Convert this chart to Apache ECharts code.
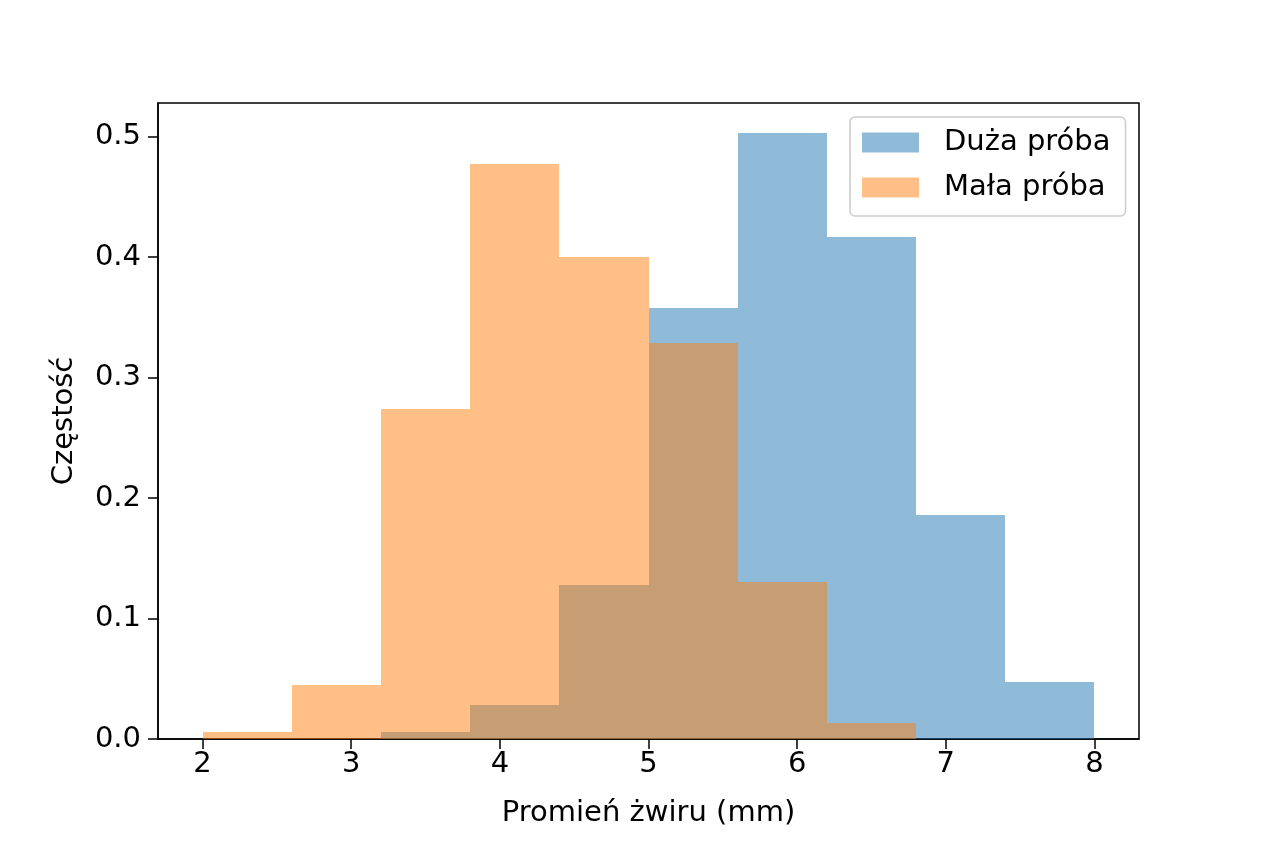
<!DOCTYPE html>
<html>
<head>
<meta charset="utf-8">
<script src="https://cdn.jsdelivr.net/npm/echarts@6/dist/echarts.min.js"></script>
<style>
  html, body { margin: 0; padding: 0; background: #fff; }
  #chart { width: 1264px; height: 843px; }
</style>
</head>
<body>
<div id="chart"></div>
<script>
// przedziały histogramu (wspólne dla obu prób)
const binEdges = [2.0, 2.6, 3.2, 3.8, 4.4, 5.0, 5.6, 6.2, 6.8, 7.4, 8.0];
// częstości
const duzaValues = [0, 0, 0.006, 0.028, 0.128, 0.358, 0.503, 0.417, 0.186, 0.047];
const malaValues = [0.006, 0.045, 0.274, 0.477, 0.400, 0.329, 0.130, 0.013, 0, 0];
const xTicks = [2, 3, 4, 5, 6, 7, 8];
const yTicks = [0, 0.1, 0.2, 0.3, 0.4, 0.5];

const FONT = 'DejaVu Sans';

function toBins(values) {
  return values.map((v, i) => [binEdges[i], binEdges[i + 1], v]);
}

// prostokąt słupka, zaokrąglony do pikseli żeby nie było szwów między słupkami
function renderBin(params, api) {
  const p0 = api.coord([api.value(0), 0]);
  const p1 = api.coord([api.value(1), api.value(2)]);
  const x0 = Math.round(p0[0]), x1 = Math.round(p1[0]);
  const y0 = Math.round(p0[1]), y1 = Math.round(p1[1]);
  return {
    type: 'rect',
    shape: { x: x0, y: y1, width: x1 - x0, height: y0 - y1 },
    style: { fill: api.visual('color') }
  };
}

const chart = echarts.init(document.getElementById('chart'));

chart.setOption({
  animation: false,
  backgroundColor: '#fff',
  grid: {
    left: 158, right: 125, top: 103, bottom: 104,
    show: true, borderColor: '#000', borderWidth: 1.5, backgroundColor: 'transparent'
  },
  legend: {
    left: 850, top: 117,
    orient: 'vertical',
    icon: 'rect',
    itemWidth: 57, itemHeight: 20, itemGap: 16,
    padding: [11, 15, 14, 12],
    backgroundColor: 'rgba(255,255,255,0.8)',
    borderColor: '#cccccc', borderWidth: 1.5, borderRadius: 5,
    textStyle: { fontFamily: FONT, fontSize: 29, color: '#000', padding: [0, 0, 0, 20] },
    data: ['Duża próba', 'Mała próba']
  },
  xAxis: {
    type: 'value',
    min: 1.7, max: 8.3,
    name: 'Promień żwiru (mm)',
    nameLocation: 'middle',
    nameGap: 60,
    nameTextStyle: { fontFamily: FONT, fontSize: 29, color: '#000' },
    axisLine: { show: true, onZero: false, lineStyle: { color: '#000', width: 1.5 } },
    axisTick: { show: true, length: 10, lineStyle: { color: '#000', width: 1.5 }, customValues: xTicks },
    axisLabel: { fontFamily: FONT, fontSize: 29, color: '#000', margin: 11, customValues: xTicks },
    splitLine: { show: false }
  },
  yAxis: {
    type: 'value',
    min: 0, max: 0.528,
    name: 'Częstość',
    nameLocation: 'middle',
    nameGap: 79,
    nameTextStyle: { fontFamily: FONT, fontSize: 29, color: '#000' },
    axisLine: { show: true, lineStyle: { color: '#000', width: 1.5 } },
    axisTick: { show: true, length: 10, lineStyle: { color: '#000', width: 1.5 }, customValues: yTicks },
    axisLabel: {
      fontFamily: FONT, fontSize: 29, color: '#000', margin: 17,
      customValues: yTicks,
      formatter: v => v.toFixed(1)
    },
    splitLine: { show: false }
  },
  series: [
    {
      name: 'Duża próba',
      type: 'custom',
      renderItem: renderBin,
      encode: { x: [0, 1], y: 2 },
      itemStyle: { color: 'rgba(31,119,180,0.5)' },
      clip: true,
      data: toBins(duzaValues)
    },
    {
      name: 'Mała próba',
      type: 'custom',
      renderItem: renderBin,
      encode: { x: [0, 1], y: 2 },
      itemStyle: { color: 'rgba(255,127,14,0.5)' },
      clip: true,
      data: toBins(malaValues)
    }
  ]
});
</script>
</body>
</html>
